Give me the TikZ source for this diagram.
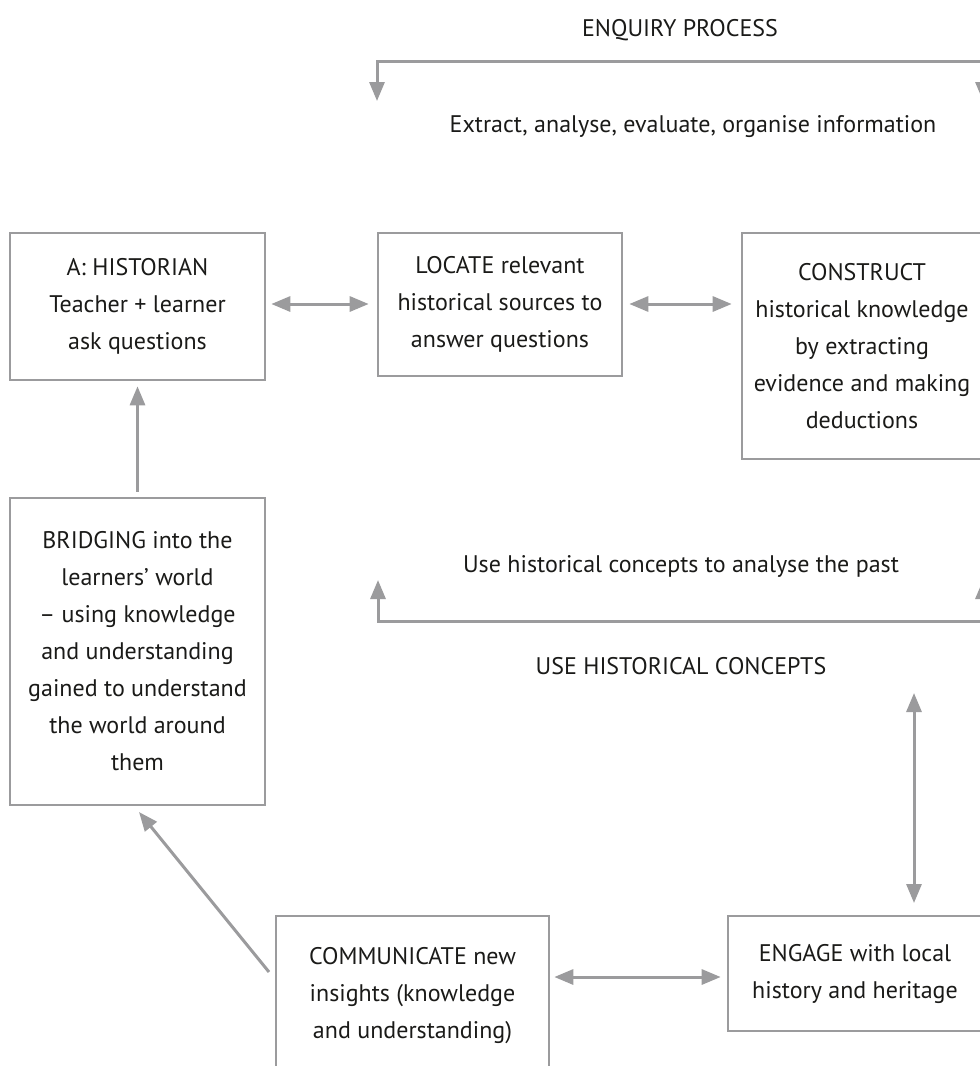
\documentclass[tikz,border=0pt]{standalone}
\usepackage{fontspec}
\setmainfont{PT Sans}
\usetikzlibrary{arrows.meta}
\definecolor{lg}{HTML}{9B9B9D}
\definecolor{tx}{HTML}{1A1A18}
\newcommand{\fsz}{\fontsize{24}{37}\selectfont}
\begin{document}
\begin{tikzpicture}[x=1pt,y=-1pt,
  box/.style={draw=lg, line width=2.6pt, align=center, text=tx, font=\fsz, inner sep=0pt},
  con/.style={draw=lg, line width=3pt, line join=miter},
  one/.style={con, -{Triangle[width=15pt,length=19pt]}},
  two/.style={con, {Triangle[width=15pt,length=19pt]}-{Triangle[width=15pt,length=19pt]}},
  lbl/.style={text=tx, font=\fsz, inner sep=0pt, anchor=base}]
\useasboundingbox (0,0) rectangle (980,1066);
\clip (0,0) rectangle (980,1066);

% boxes
\node[box, minimum width=255pt, minimum height=147pt] (hist) at (137.5,306.5)
  {A: HISTORIAN\\Teacher + learner\\ask questions};
\node[box, minimum width=244pt, minimum height=143pt] (loc) at (500,304.5)
  {LOCATE relevant\\historical sources to\\answer questions};
\node[box, minimum width=240pt, minimum height=226pt] (cons) at (862,346)
  {CONSTRUCT\\historical knowledge\\by extracting\\evidence and making\\deductions};
\node[box, minimum width=255pt, minimum height=307pt] (bridge) at (137.5,651.5)
  {BRIDGING into the\\learners' world\\ -- using knowledge\\and understanding\\gained to understand\\the world around\\them};
\node[box, minimum width=273pt, minimum height=159pt] (comm) at (412.5,995.5)
  {COMMUNICATE new\\insights (knowledge\\and understanding)};
\node[box, minimum width=254pt, minimum height=115pt] (eng) at (855,973.5)
  {ENGAGE with local\\history and heritage};

% labels
\node[lbl] (enq) at (680,36) {ENQUIRY PROCESS};
\node[lbl] (extr) at (693,132) {Extract, analyse, evaluate, organise information};
\node[lbl] (usec) at (681,572) {Use historical concepts to analyse the past};
\node[lbl] (usehc) at (681,674) {USE HISTORICAL CONCEPTS};

% helper coordinates
\coordinate (row1) at (0,304);
\coordinate (row2) at (0,977);
\coordinate (t1) at (377,101);
\coordinate (t2) at (377,61);
\coordinate (t3) at (983,61);
\coordinate (t4) at (983,101);
\coordinate (b1) at (378,580);
\coordinate (b2) at (378,621);
\coordinate (b3) at (983,621);
\coordinate (b4) at (983,580);
\coordinate (v1) at (914,693);
\coordinate (v2) at (914,903);
\coordinate (d1) at (269,972);
\coordinate (d2) at (139,812);

% connectors
\draw[two] ([xshift=5pt]hist.east |- row1) -- ([xshift=-8pt]loc.west |- row1);
\draw[two] ([xshift=6pt]loc.east |- row1) -- ([xshift=-9pt]cons.west |- row1);
\draw[one] ([yshift=5pt]bridge.north) -- ([yshift=-5pt]hist.south);
\draw[one] (d1) -- (d2);
\draw[two] ([xshift=4pt]comm.east |- row2) -- ([xshift=-6pt]eng.west |- row2);
\draw[two] (v1) -- (v2);
\draw[two] (t1) -- (t2) -- (t3) -- (t4);
\draw[two] (b1) -- (b2) -- (b3) -- (b4);
\end{tikzpicture}
\end{document}
